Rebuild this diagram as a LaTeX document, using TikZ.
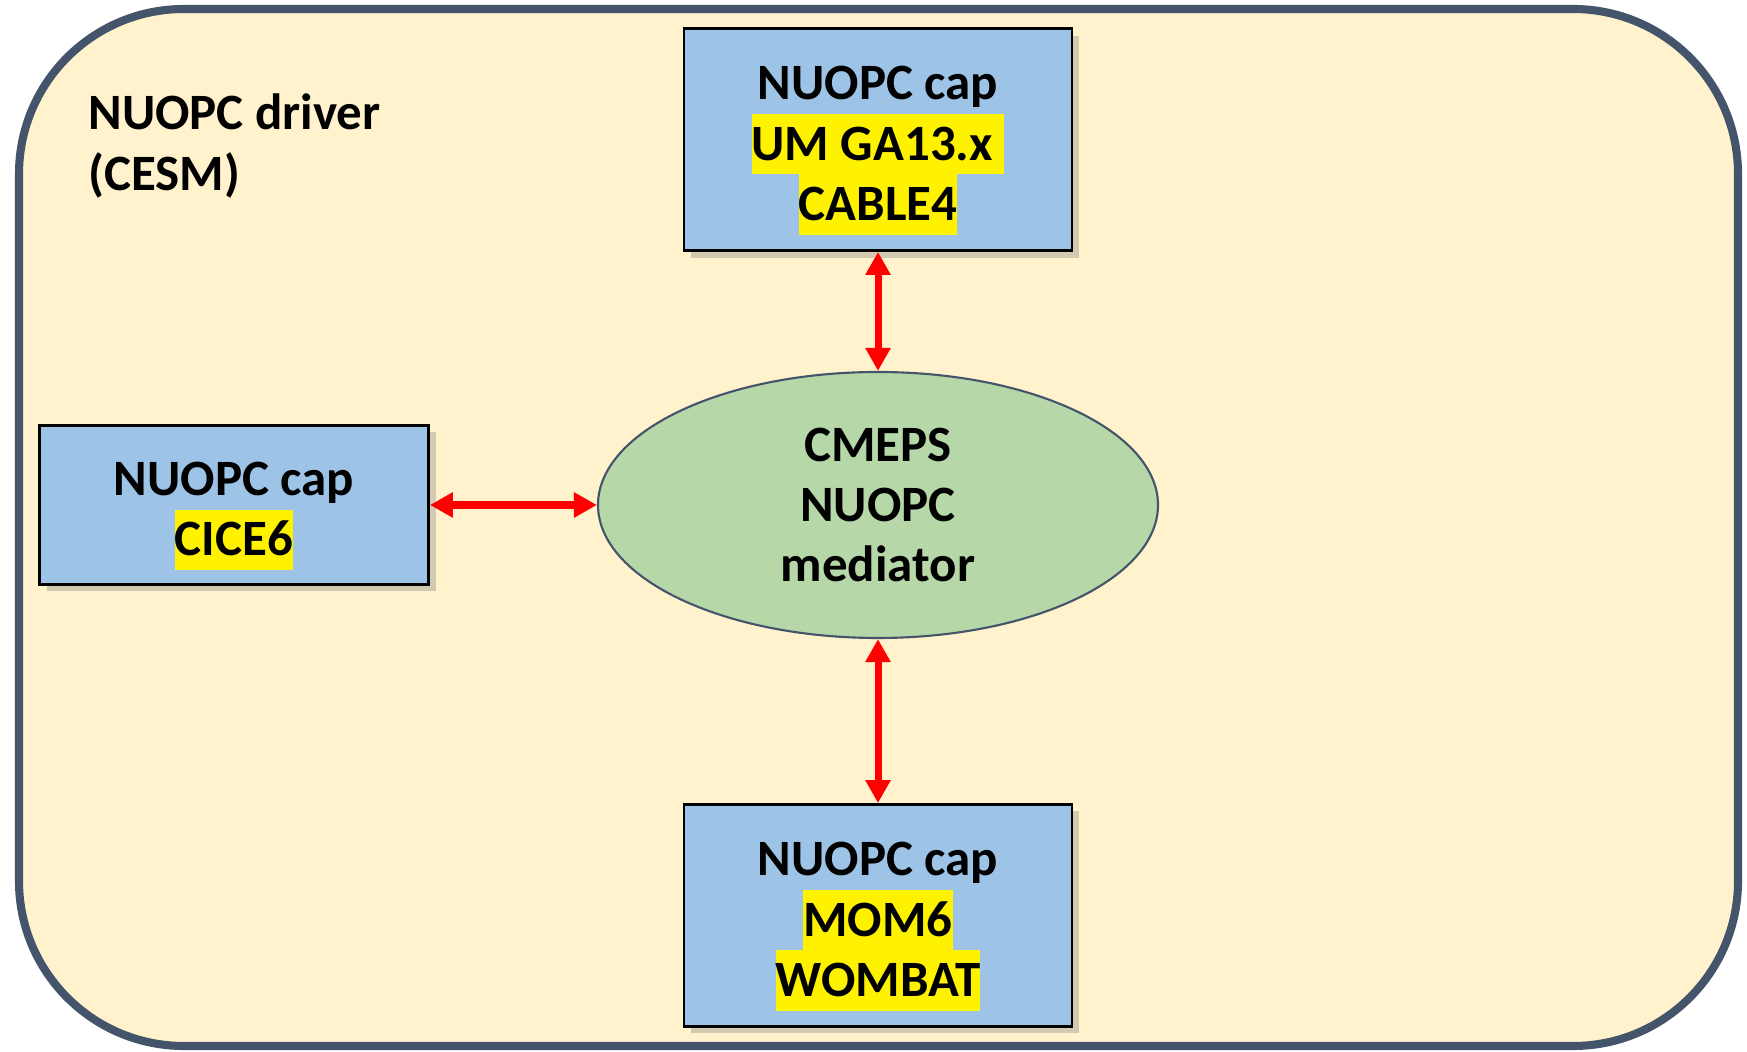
\documentclass[tikz,border=0pt]{standalone}
\usepackage{fontspec}
\setmainfont{Carlito}
\usetikzlibrary{shapes.geometric, arrows.meta, positioning, shadows}
\definecolor{driverfill}{RGB}{255,242,204}
\definecolor{driverline}{RGB}{68,84,106}
\definecolor{capfill}{RGB}{157,195,230}
\definecolor{medfill}{RGB}{182,215,168}
\newcommand{\hlt}[1]{{\setlength{\fboxsep}{0pt}\colorbox{yellow}{\rule[-4pt]{0pt}{17.2pt}#1}}}
\newcommand{\capstrut}{\rule{0pt}{15.8pt}}

\begin{document}
\begin{tikzpicture}[
  txt/.style={font=\bfseries\fontsize{14.5}{17.2}\selectfont, align=center},
  capbox/.style={txt, rectangle, draw=black, line width=0.8pt, fill=capfill,
    minimum width=3.88cm, minimum height=2.22cm,
    drop shadow={shadow xshift=0.07cm, shadow yshift=-0.07cm, opacity=0.35}},
  med/.style={txt, ellipse, draw=driverline, line width=0.6pt, fill=medfill,
    minimum width=5.6cm, minimum height=2.66cm},
  link/.style={<->, >={Triangle[length=0.23cm,width=0.24cm]}, red, line width=2pt}
]
  \useasboundingbox (0,0) rectangle (17.47,10.51);
  \draw[driverline, fill=driverfill, line width=2.3pt, rounded corners=1.65cm]
    (0.19,0.05) rectangle (17.38,10.42);
  \node[txt, align=left, anchor=west] (driver) at (0.76,9.05) {NUOPC driver\\(CESM)};

  \node[med] (cmeps) at (8.78,5.46) {CMEPS\\NUOPC\\mediator};
  \node[capbox, above=1.19cm of cmeps] (umcap)
    {\capstrut NUOPC cap\\\hlt{UM GA13.x }\\\hlt{CABLE4}};
  \node[capbox, below=1.64cm of cmeps] (momcap)
    {\capstrut NUOPC cap\\\hlt{MOM6}\\\hlt{WOMBAT}};
  \node[capbox, left=1.67cm of cmeps, minimum width=3.89cm, minimum height=1.59cm] (cicecap)
    {\capstrut NUOPC cap\\\hlt{CICE6}};

  \draw[link] (umcap) -- (cmeps);
  \draw[link] (cmeps) -- (momcap);
  \draw[link] (cicecap) -- (cmeps);
\end{tikzpicture}
\end{document}
